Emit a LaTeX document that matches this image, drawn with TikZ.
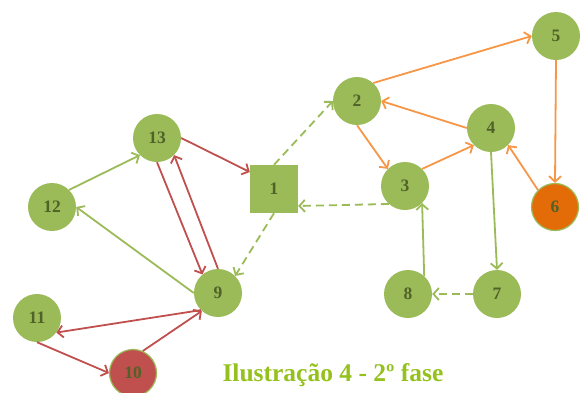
\documentclass[tikz,border=0pt]{standalone}
\usepackage{fontspec}
\setmainfont{Liberation Serif}
\usetikzlibrary{arrows.meta}
\definecolor{nodegreen}{HTML}{9BBB59}
\definecolor{labelgreen}{HTML}{4F6228}
\definecolor{edgered}{HTML}{C0504D}
\definecolor{edgeorange}{HTML}{F79646}
\definecolor{fillorange}{HTML}{E36C09}
\definecolor{titlegreen}{HTML}{94C11C}
\tikzset{
  vertex/.style={circle, fill=nodegreen, minimum size=48pt, inner sep=0pt,
    text=labelgreen, font=\fontsize{17.5}{19}\selectfont\bfseries},
  hubbox/.style={rectangle, fill=nodegreen, minimum size=48pt, inner sep=0pt,
    text=labelgreen, font=\fontsize{17.5}{19}\selectfont\bfseries},
  ring/.style={draw=nodegreen, line width=1.2pt, minimum size=47pt},
  link/.style={line width=1.8pt, -{Straight Barb[length=5.5pt,width=12pt]}},
  greenlink/.style={link, draw=nodegreen},
  dashlink/.style={greenlink, dash pattern=on 8pt off 5pt},
  redlink/.style={link, draw=edgered},
  orangelink/.style={link, draw=edgeorange},
}
\begin{document}
\begin{tikzpicture}[x=1pt, y=-1pt]
\useasboundingbox (0,0) rectangle (587,392);
\clip (0,0) rectangle (587,392);

% vertices
\node[hubbox] (n1) at (274,189) {1};
\node[vertex] (n2) at (357,101) {2};
\node[vertex] (n3) at (405,186) {3};
\node[vertex] (n4) at (491,128) {4};
\node[vertex] (n5) at (556,36) {5};
\node[vertex, ring, fill=fillorange] (n6) at (555,207) {6};
\node[vertex] (n7) at (497,294) {7};
\node[vertex] (n8) at (408,294) {8};
\node[vertex] (n9) at (218,293) {9};
\node[vertex, ring, fill=edgered] (n10) at (133,373) {10};
\node[vertex] (n11) at (37,318) {11};
\node[vertex] (n12) at (52,207) {12};
\node[vertex] (n13) at (157,138) {13};

% orange cycle on the right
\draw[orangelink] (n2.48) -- (n5.west);
\draw[orangelink] (n5.south) -- (n6.north);
\draw[orangelink] (n6.north west) -- (n4.south east);
\draw[orangelink] (n4.west) -- (n2.east);
\draw[orangelink] (n2.south) -- (n3.north west);
\draw[orangelink] (n3.north east) -- (n4.south west);

% green links
\draw[greenlink] (n4.south) -- (n7.north);
\draw[dashlink] (n7.west) -- (n8.east);
\draw[greenlink] (n8.48) -- (n3.south east);
\draw[dashlink] (n3.228) -- ([yshift=-17pt]n1.east);
\draw[dashlink] (n1.north) -- (n2.west);
\draw[dashlink] (n1.south) -- (n9.north east);
\draw[greenlink] (n12.45) -- (n13.225);
\draw[greenlink] (n9.west) -- (n12.east);

% red links on the left
\draw[redlink] (n13.east) -- ([yshift=17pt]n1.west);
\draw[redlink] (n13.south) -- (n9.130);
\draw[redlink] (n9.north) -- (n13.315);
\draw[redlink] (n9.225) -- (n11.323);
\draw[redlink] (n11.south) -- (n10.west);
\draw[redlink] (n10.66) -- (n9.228);

% caption
\node[anchor=base, text=titlegreen, font=\fontsize{25.5}{28}\selectfont\bfseries]
  (caption) at (333,381) {Ilustração 4 - 2º fase};
\end{tikzpicture}
\end{document}
